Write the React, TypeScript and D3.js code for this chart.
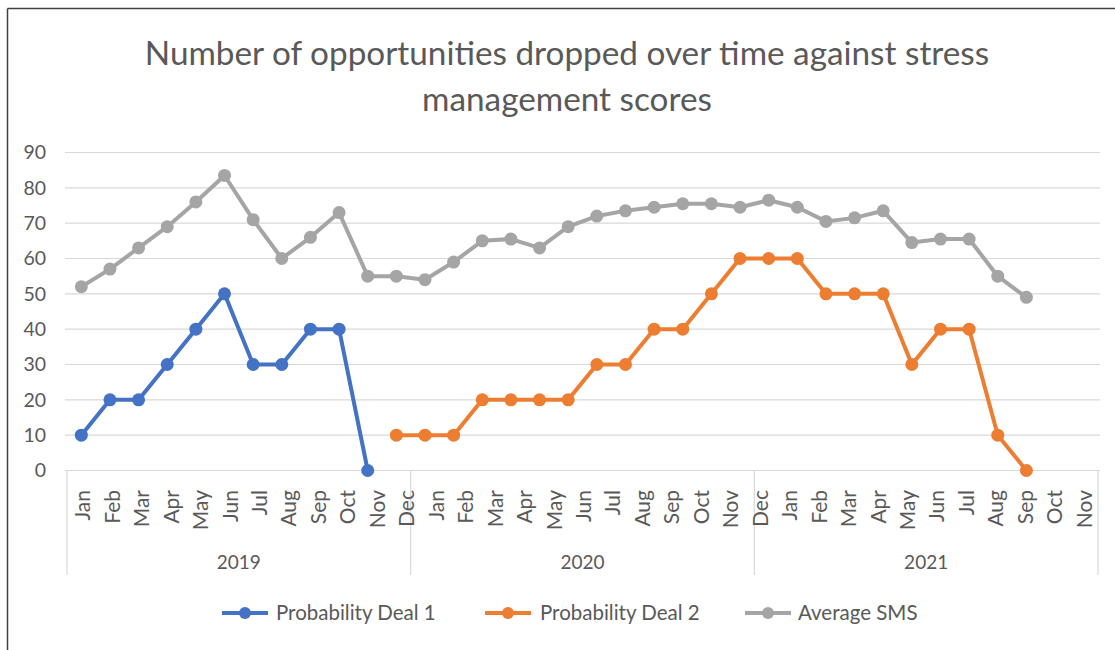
import React from 'react';
import * as d3 from 'd3';

// x slots: one per month, Jan 2019 .. Dec 2021
const slots = d3.range(36);
const years = ['2019', '2020', '2021'];
// month tick labels as printed on the axis (35 of them)
const monthLabels = [
  'Jan', 'Feb', 'Mar', 'Apr', 'May', 'Jun', 'Jul', 'Aug', 'Sep', 'Oct', 'Nov', 'Dec',
  'Jan', 'Feb', 'Mar', 'Apr', 'May', 'Jun', 'Jul', 'Aug', 'Sep', 'Oct', 'Nov', 'Dec',
  'Jan', 'Feb', 'Mar', 'Apr', 'May', 'Jun', 'Jul', 'Aug', 'Sep', 'Oct', 'Nov',
];

const deal1 = [10, 20, 20, 30, 40, 50, 30, 30, 40, 40, 0];
const deal1Start = 0;
const deal2 = [10, 10, 10, 20, 20, 20, 20, 30, 30, 40, 40, 50, 60, 60, 60, 50, 50, 50, 30, 40, 40, 10, 0];
const deal2Start = 11;
const avgSms = [
  52, 57, 63, 69, 76, 83.5, 71, 60, 66, 73, 55, 55,
  54, 59, 65, 65.5, 63, 69, 72, 73.5, 74.5, 75.5, 75.5, 74.5,
  76.5, 74.5, 70.5, 71.5, 73.5, 64.5, 65.5, 65.5, 55, 49,
];
const avgStart = 0;
const yTicks = [0, 10, 20, 30, 40, 50, 60, 70, 80, 90];

const series = [
  { name: 'Probability Deal 1', color: '#4472C4', values: deal1, start: deal1Start },
  { name: 'Probability Deal 2', color: '#ED7D31', values: deal2, start: deal2Start },
  { name: 'Average SMS', color: '#A5A5A5', values: avgSms, start: avgStart },
];

const W = 1115;
const H = 650;
const left = 67;
const right = 1098;
const top = 152.5;
const bottom = 470.5;
const font = 'Lato, "Open Sans", sans-serif';
const textColor = '#595959';

export default function App() {
  const x = d3.scaleBand<number>().domain(slots).range([left, right]);
  const xLabel = d3.scaleBand<number>().domain(d3.range(monthLabels.length)).range([left, right]);
  const y = d3.scaleLinear().domain([0, 90]).range([bottom, top]);
  const cx = (i: number) => (x(i) as number) + x.bandwidth() / 2;

  const line = d3.line<[number, number]>()
    .x(d => cx(d[0]))
    .y(d => y(d[1]));

  const legendItems = [
    { x: 222, textX: 276 },
    { x: 485, textX: 540 },
    { x: 745, textX: 798 },
  ];

  // gray drawn first, blue and orange on top
  const drawOrder = [series[2], series[0], series[1]];

  return (
    <div style={{ position: 'absolute', left: 0, top: 0 }}>
      <svg width={W} height={H} style={{ display: 'block', background: '#fff' }} fontFamily={font}>
        <rect x={0} y={0} width={W} height={H} fill="#fff" />
        {/* frame */}
        <line x1={7.5} x2={W} y1={8.5} y2={8.5} stroke="#404040" strokeWidth={1.5} />
        <line x1={7.5} x2={7.5} y1={8.5} y2={H} stroke="#404040" strokeWidth={1.5} />

        <text x={567} y={65} textAnchor="middle" fontSize={33.3} fill={textColor}>
          Number of opportunities dropped over time against stress
        </text>
        <text x={567} y={111} textAnchor="middle" fontSize={33.3} fill={textColor}>
          management scores
        </text>

        {/* gridlines + y labels */}
        {yTicks.map(t => (
          <g key={t}>
            <line x1={left - 2} x2={right + 2} y1={y(t)} y2={y(t)} stroke="#d9d9d9" strokeWidth={1.2} />
            <text x={46} y={y(t)} dy="0.35em" textAnchor="end" fontSize={19.5} fill={textColor}>{t}</text>
          </g>
        ))}

        {/* category axis: group separators */}
        {[0, 12, 24, 36].map(b => {
          const bx = b === 36 ? right : (x(b) as number);
          return <line key={b} x1={bx} x2={bx} y1={bottom} y2={575} stroke="#d9d9d9" strokeWidth={1.2} />;
        })}
        {monthLabels.map((m, i) => {
          const lx = (xLabel(i) as number) + xLabel.bandwidth() / 2;
          return (
            <text key={i} transform={`translate(${lx},490) rotate(-90)`} textAnchor="end"
              dominantBaseline="central" fontSize={21} fill={textColor}>{m}</text>
          );
        })}
        {years.map((yr, i) => {
          const gx = ((x(i * 12) as number) + (i === 2 ? right : (x(i * 12 + 12) as number))) / 2;
          return (
            <text key={yr} x={gx} y={562} dy="0.35em" textAnchor="middle" fontSize={19} fill={textColor}>{yr}</text>
          );
        })}

        {/* series */}
        {drawOrder.map(s => {
          const pts: [number, number][] = s.values.map((v, k) => [s.start + k, v]);
          return (
            <g key={s.name}>
              <path d={line(pts) ?? ''} fill="none" stroke={s.color} strokeWidth={4} strokeLinejoin="round" />
              {pts.map(p => (
                <circle key={p[0]} cx={cx(p[0])} cy={y(p[1])} r={6.5} fill={s.color} />
              ))}
            </g>
          );
        })}

        {/* legend */}
        {series.map((s, i) => (
          <g key={s.name}>
            <line x1={legendItems[i].x} x2={legendItems[i].x + 46} y1={613} y2={613} stroke={s.color} strokeWidth={4} />
            <circle cx={legendItems[i].x + 23} cy={613} r={6} fill={s.color} />
            <text x={legendItems[i].textX} y={613} dy="0.35em" fontSize={20.5} fill={textColor}>{s.name}</text>
          </g>
        ))}
      </svg>
    </div>
  );
}
